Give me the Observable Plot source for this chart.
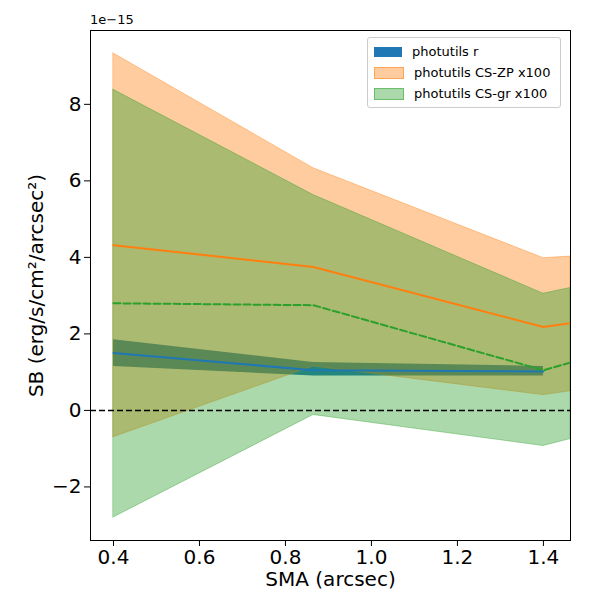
<!DOCTYPE html>
<html><head>
<script src="https://cdn.jsdelivr.net/npm/d3@7"></script>
<script src="https://cdn.jsdelivr.net/npm/@observablehq/plot@0.6"></script>
<style>body{margin:0;font-family:"DejaVu Sans",sans-serif;background:#fff}#wrap{position:relative;width:600px;height:600px}
.leg{position:absolute;left:367px;top:37px;width:194px;border:1px solid #ccc;border-radius:3px;background:rgba(255,255,255,0.8);font-size:13px;padding:3px 0 3px 6px;box-sizing:border-box}
.leg div{display:flex;align-items:center;height:21px}.leg span.s{display:inline-block;width:28px;height:10px;margin-right:10px}
</style></head><body><div id="wrap"></div>
<script>
const sma = [0.4, 0.865, 1.4, 1.463];
const rMid = [1.5, 1.05, 1.02];
const rLo = [1.15, 0.9, 0.9];
const rHi = [1.85, 1.25, 1.15];
const zpMid = [4.32, 3.75, 2.18, 2.28];
const zpLo = [-0.7, 1.15, 0.4, 0.5];
const zpHi = [9.33, 6.33, 3.98, 4.02];
const grMid = [2.8, 2.75, 1.05, 1.25];
const grLo = [-2.8, -0.12, -0.93, -0.75];
const grHi = [8.38, 5.63, 3.05, 3.2];
const xTicks = [0.4, 0.6, 0.8, 1.0, 1.2, 1.4];
const yTicks = [-2, 0, 2, 4, 6, 8];

const R = rMid.map((v,i)=>({x:sma[i],m:v,lo:rLo[i],hi:rHi[i]}));
const Z = zpMid.map((v,i)=>({x:sma[i],m:v,lo:zpLo[i],hi:zpHi[i]}));
const G = grMid.map((v,i)=>({x:sma[i],m:v,lo:grLo[i],hi:grHi[i]}));

const p = Plot.plot({
  width:600,height:600,marginLeft:90,marginRight:30,marginTop:30,marginBottom:60,
  style:{fontFamily:"DejaVu Sans",fontSize:"12px",color:"#000"},
  x:{domain:[0.3465,1.463],ticks:xTicks,tickFormat:d=>d.toFixed(1),label:"SMA (arcsec)",labelAnchor:"center",labelArrow:"none"},
  y:{domain:[-3.4,9.93],ticks:yTicks,tickFormat:d=>d<0?"−"+(-d):""+d,label:"SB (erg/s/cm²/arcsec²)",labelAnchor:"center",labelArrow:"none"},
  marks:[
    Plot.areaY(R,{x:"x",y1:"lo",y2:"hi",fill:"#1f77b4",clip:true}),
    Plot.areaY(Z,{x:"x",y1:"lo",y2:"hi",fill:"#ff7f0e",fillOpacity:0.4,stroke:"#ff7f0e",strokeOpacity:0.4,clip:true}),
    Plot.areaY(G,{x:"x",y1:"lo",y2:"hi",fill:"#2ca02c",fillOpacity:0.4,stroke:"#2ca02c",strokeOpacity:0.4,clip:true}),
    Plot.ruleY([0],{stroke:"#000",strokeWidth:1.5,strokeDasharray:"6,3"}),
    Plot.lineY(R,{x:"x",y:"m",stroke:"#1f77b4",strokeWidth:2,clip:true}),
    Plot.lineY(Z,{x:"x",y:"m",stroke:"#ff7f0e",strokeWidth:2,clip:true}),
    Plot.lineY(G,{x:"x",y:"m",stroke:"#2ca02c",strokeWidth:2,strokeDasharray:"7,3",clip:true}),
    Plot.frame({stroke:"#000"}),
    Plot.axisX({ticks:xTicks,tickFormat:d=>d.toFixed(1),label:"SMA (arcsec)",labelAnchor:"center",labelArrow:"none",fontSize:11,labelOffset:45}),
    Plot.axisY({ticks:yTicks,tickFormat:d=>d<0?"−"+(-d):""+d,label:"SB (erg/s/cm²/arcsec²)",labelAnchor:"center",labelArrow:"none",fontSize:11,labelOffset:62})
  ]
});
d3.select(p).selectAll("[aria-label$='label'] text").attr("font-size",20);
const w = document.getElementById("wrap");
w.appendChild(p);
const t = document.createElement("div");
t.textContent="1e−15";t.style.cssText="position:absolute;left:90px;top:12px;font-size:13px";
w.appendChild(t);
const leg = document.createElement("div");leg.className="leg";
leg.innerHTML=`<div><span class="s" style="background:#1f77b4"></span>photutils r</div>
<div><span class="s" style="background:rgba(255,127,14,0.4);border:1px solid rgba(255,127,14,0.5)"></span>photutils CS-ZP x100</div>
<div><span class="s" style="background:rgba(44,160,44,0.4);border:1px solid rgba(44,160,44,0.5)"></span>photutils CS-gr x100</div>`;
w.appendChild(leg);
</script></body></html>
